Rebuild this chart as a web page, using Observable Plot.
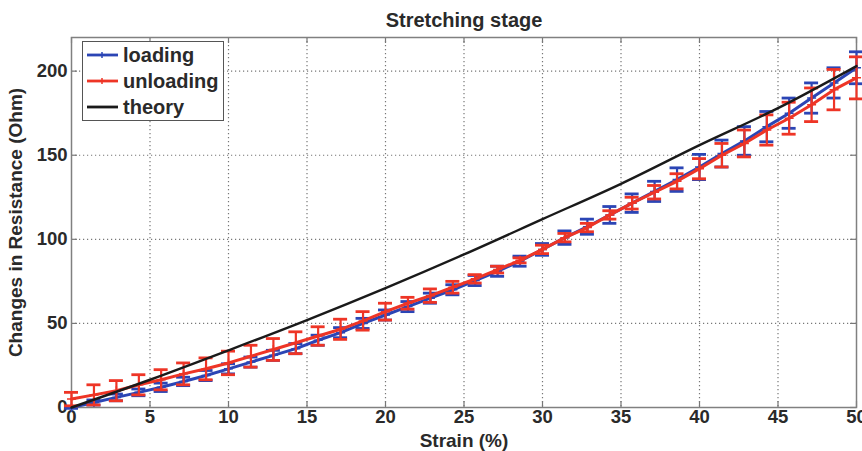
<!DOCTYPE html>
<html>
<head>
<meta charset="utf-8">
<script src="https://cdn.jsdelivr.net/npm/d3@7"></script>
<script src="https://cdn.jsdelivr.net/npm/@observablehq/plot@0.6"></script>
<style>
  html, body { margin: 0; padding: 0; background: #fff; }
  #wrap { position: relative; width: 862px; height: 451px; font-family: "Liberation Sans", Arial, sans-serif; }
  #legend { position: absolute; left: 82px; top: 41px; width: 142px; height: 80px; border: 1px solid #555; background: #fff; box-sizing: border-box; }
  .entry { position: absolute; left: 4px; height: 26px; display: flex; align-items: center; font-weight: bold; font-size: 20px; color: #2a2a2a; }
  .entry svg { margin-right: 5px; }
</style>
</head>
<body>
<div id="wrap"></div>
<script>
// ---- data ----
const strain = [0, 1.43, 2.86, 4.29, 5.71, 7.14, 8.57, 10, 11.43, 12.86, 14.29, 15.71, 17.14, 18.57, 20,
  21.43, 22.86, 24.29, 25.71, 27.14, 28.57, 30, 31.43, 32.86, 34.29, 35.71, 37.14, 38.57, 40,
  41.43, 42.86, 44.29, 45.71, 47.14, 48.57, 50];
const loading = [0, 3, 6, 9, 12, 15.5, 19, 23, 27, 31, 35, 40, 44.5, 50, 55,
  60, 65, 70, 75.5, 81, 87, 94, 101, 107.5, 114.5, 121.5, 128.5, 135.5, 143,
  151, 158.5, 167, 175, 184, 193, 202];
const loadingErr = [0.5, 1.5, 2, 2, 2.5, 2.5, 3, 3, 3, 3, 3, 3, 3, 3, 3,
  3, 3, 3, 3, 3, 3, 3.5, 4, 4.5, 5, 5.5, 6, 7, 7.5,
  8, 8.5, 9, 9, 9, 9, 9.5];
const unloading = [5, 7.5, 10, 13.5, 16.5, 20, 23, 26.5, 30.5, 34.5, 38.5, 42.5, 46.5, 51.5, 57,
  62, 66.5, 71.5, 76.5, 82, 87.5, 94, 101, 107, 114.5, 121.5, 128, 134.5, 142,
  150, 157, 165, 172, 180, 189, 196];
const unloadingErr = [4, 6, 6, 6, 6, 6.5, 6.5, 7, 6.5, 6.5, 6.5, 5.5, 6, 5.5, 5,
  3.5, 4, 3.5, 2.5, 2, 1.5, 2.5, 2.5, 2.5, 2.5, 3.5, 4, 4.5, 6,
  7, 8, 9, 9.5, 10, 12, 12.5];
const theoryStrain = [0, 5, 10, 15, 20, 25, 30, 35, 40, 45, 50];
const theoryRes = [0, 16.5, 34, 52, 71, 91, 112, 133, 156, 178, 203];
const xTicks = [0, 5, 10, 15, 20, 25, 30, 35, 40, 45, 50];
const yTicks = [0, 50, 100, 150, 200];
const seriesNames = ["loading", "unloading", "theory"];

// ---- styling ----
const BLUE = "#2b45b5", RED = "#ee3526", BLACK = "#1a1a1a", TXT = "#2a2a2a";
const W = 862, H = 451, mL = 71, mR = 6, mT = 37, mB = 44;
const fw = W - mL - mR, fh = H - mT - mB, tk = 6;

const loadRows = strain.map((x, i) => ({x, y: loading[i], lo: loading[i] - loadingErr[i], hi: loading[i] + loadingErr[i]}));
const unloadRows = strain.map((x, i) => ({x, y: unloading[i], lo: unloading[i] - unloadingErr[i], hi: unloading[i] + unloadingErr[i]}));
const theoryRows = theoryStrain.map((x, i) => ({x, y: theoryRes[i]}));

function errMarks(rows, color) {
  return [
    Plot.ruleX(rows, {x: "x", y1: "lo", y2: "hi", stroke: color, strokeWidth: 2.2}),
    Plot.ruleY(rows, {y: "hi", x1: "x", x2: "x", insetLeft: -7, insetRight: -7, stroke: color, strokeWidth: 2.8}),
    Plot.ruleY(rows, {y: "lo", x1: "x", x2: "x", insetLeft: -7, insetRight: -7, stroke: color, strokeWidth: 2.8}),
    Plot.line(rows, {x: "x", y: "y", stroke: color, strokeWidth: 3}),
    Plot.dot(rows, {x: "x", y: "y", symbol: "plus", r: 3, stroke: color, strokeWidth: 1.5})
  ];
}

const chart = Plot.plot({
  width: W, height: H,
  marginLeft: mL, marginRight: mR, marginTop: mT, marginBottom: mB,
  style: {fontFamily: "'Liberation Sans', Arial, sans-serif", fontWeight: "bold", color: TXT, background: "#fff", overflow: "visible"},
  x: {domain: [0, 50]},
  y: {domain: [0, 220]},
  marks: [
    Plot.ruleX(xTicks.slice(1, -1), {x: d => d, stroke: "#777", strokeDasharray: "1.2,2.8", strokeWidth: 1.2}),
    Plot.ruleY(yTicks.slice(1), {y: d => d, stroke: "#777", strokeDasharray: "1.2,2.8", strokeWidth: 1.2}),
    Plot.ruleX(xTicks, {x: d => d, insetTop: fh - tk, stroke: "#777", strokeWidth: 1.2}),
    Plot.ruleX(xTicks, {x: d => d, insetBottom: fh - tk, stroke: "#777", strokeWidth: 1.2}),
    Plot.ruleY(yTicks, {y: d => d, insetRight: fw - tk, stroke: "#777", strokeWidth: 1.2}),
    Plot.ruleY(yTicks, {y: d => d, insetLeft: fw - tk, stroke: "#777", strokeWidth: 1.2}),
    Plot.frame({stroke: "#808080", strokeWidth: 1.5}),
    Plot.axisX(xTicks, {tickSize: 0, tickPadding: 2, fontSize: 18.5, fontWeight: "bold", label: "Strain (%)", labelAnchor: "center", labelOffset: 39, labelArrow: "none"}),
    Plot.axisY(yTicks, {tickSize: 0, tickPadding: 4, fontSize: 18.5, fontWeight: "bold", label: "Changes in Resistance (Ohm)", labelAnchor: "center", labelOffset: 63, labelArrow: "none"}),
    ...errMarks(loadRows, BLUE),
    ...errMarks(unloadRows, RED),
    Plot.line(theoryRows, {x: "x", y: "y", stroke: BLACK, strokeWidth: 2.4, curve: "monotone-x"}),
    Plot.text(["Stretching stage"], {frameAnchor: "top", dy: -11, lineAnchor: "bottom", fontSize: 20, fontWeight: "bold", fill: TXT})
  ]
});
chart.querySelectorAll("g[aria-label='x-axis label'], g[aria-label='y-axis label']").forEach(g => {
  g.setAttribute("font-size", "19");
  g.querySelectorAll("text").forEach(t => t.setAttribute("font-size", "19"));
});

const wrap = document.getElementById("wrap");
wrap.appendChild(chart);

// legend
const legendColors = [BLUE, RED, BLACK];
const legend = document.createElement("div");
legend.id = "legend";
seriesNames.forEach((name, i) => {
  const e = document.createElement("div");
  e.className = "entry";
  e.style.top = (i * 26) + "px";
  const marker = i < 2 ? `<path d="M15,10V16M12,13H18" stroke="${legendColors[i]}" stroke-width="1.5"/>` : "";
  e.innerHTML = `<svg width="31" height="26"><line x1="0" y1="13" x2="31" y2="13" stroke="${legendColors[i]}" stroke-width="2.8"/>${marker}</svg><span>${name}</span>`;
  legend.appendChild(e);
});
wrap.appendChild(legend);
</script>
</body>
</html>
